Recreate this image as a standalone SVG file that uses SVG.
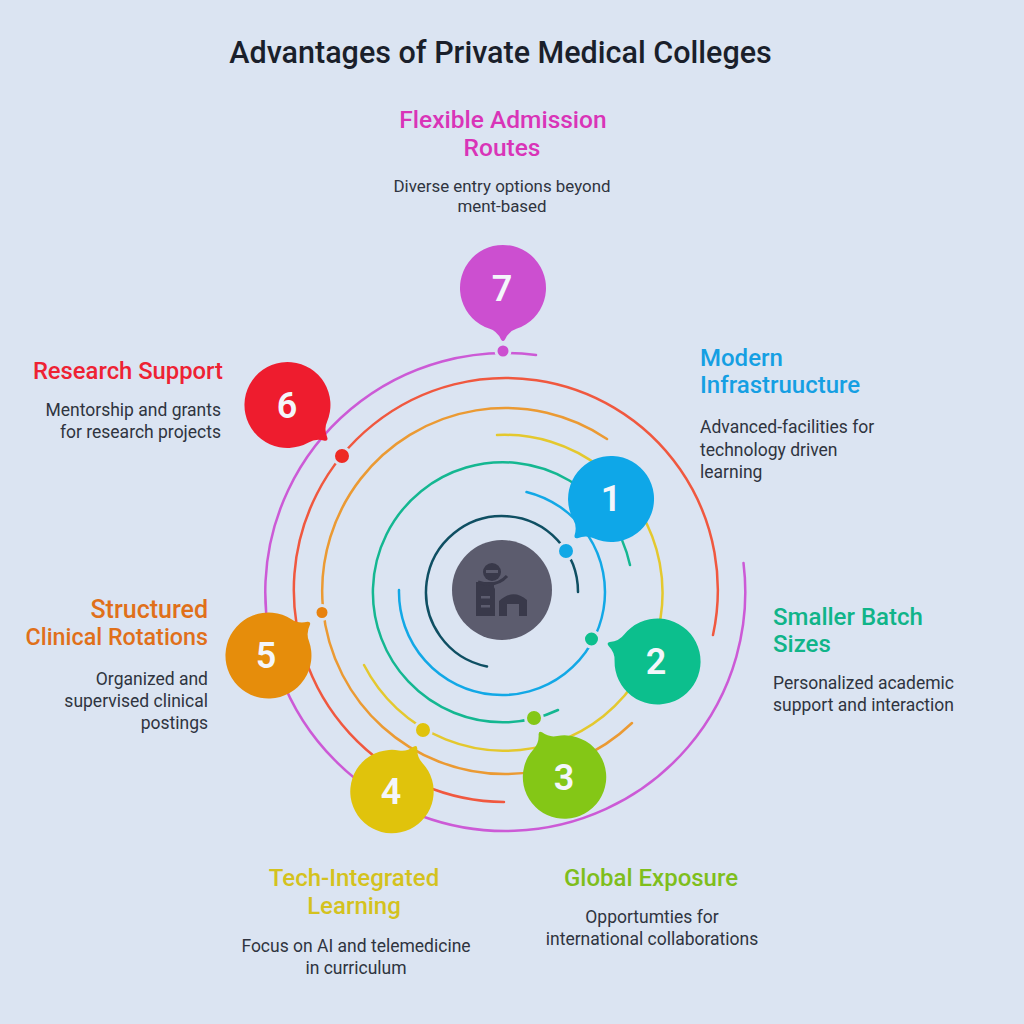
<svg xmlns="http://www.w3.org/2000/svg" width="1024" height="1024" viewBox="0 0 1024 1024">
<style>
text{font-family:Roboto,"Liberation Sans",sans-serif}
.title{font-size:30.500px;font-weight:500;fill:#1a1f2b;text-anchor:middle}
.h{font-size:24px;font-weight:500}
.d{font-size:17.500px;font-weight:400;fill:#2f3440}
.m{text-anchor:middle}.e{text-anchor:end}
.n{font-size:36px;font-weight:600;fill:#f4f6fb;text-anchor:middle}
.a{fill:none;stroke-width:2.500;stroke-linecap:round}
.dot{stroke:#dbe4f2;stroke-width:3}
</style>
<defs>
<path id="bub" d="M-14-40.600A43 43 0 1 0 14-40.600Q6-43 2-51.500Q0-54.500-2-51.500Q-6-43-14-40.600Z"/>
</defs>
<rect width="1024" height="1024" fill="#dbe4f2"/>
<text class="title" x="500.500" y="63">Advantages of Private Medical Colleges</text>
<g id="connectors">
<path class="a" stroke="#0f4f63" d="M578 592A76 76 0 1 0 487 666.500"/>
<path class="a" stroke="#12a8e6" d="M526.500 492A103 103 0 1 1 399 590"/>
<path class="a" stroke="#14b791" d="M630 565A130 130 0 1 0 558 710"/>
<path class="a" stroke="#e4c82e" d="M497 435A158 158 0 1 1 364 665"/>
<path class="a" stroke="#eb9a33" d="M607 439A183 183 0 1 0 632 723"/>
<path class="a" stroke="#f0583f" d="M713 635A212 212 0 1 0 504 802"/>
<path class="a" stroke="#cc5ad6" d="M536 355A240 239 0 1 0 743.500 563"/>
<circle class="dot" cx="566" cy="551" r="8.500" fill="#12a8e6"/>
<circle class="dot" cx="591.500" cy="639" r="8" fill="#0cbf8d"/>
<circle class="dot" cx="534" cy="718" r="8.500" fill="#84c716"/>
<circle class="dot" cx="423" cy="730" r="8.500" fill="#e0c30c"/>
<circle class="dot" cx="322" cy="612.500" r="7" fill="#e8820f"/>
<circle class="dot" cx="342" cy="456" r="8.500" fill="#ee2a24"/>
<circle class="dot" cx="503" cy="351" r="7" fill="#cc4fd0"/>
</g>
<g id="center">
<circle cx="502" cy="590" r="50" fill="#5c5c6e"/>
<g fill="#39394a">
<path d="M476 582H491L495 589V616H476Z"/>
<path d="M499 616V601Q513 588 527 600V616H519V604H507V616Z"/>
<circle cx="492" cy="572" r="9"/>
<path d="M478 582Q496 588 507 576" fill="none" stroke="#39394a" stroke-width="3"/>
<rect x="490" y="582" width="4" height="10"/>
</g>
<g fill="#5c5c6e">
<rect x="486" y="570" width="12" height="3"/>
<rect x="481" y="596" width="9" height="2.500"/>
<rect x="481" y="605" width="9" height="2.500"/>
<path d="M509 608V606H518V616H515V608Z"/>
</g>
</g>
<g id="node-1">
<use href="#bub" transform="translate(611 499) rotate(222.800)" fill="#0ea7e8"/>
<text class="n" x="611" y="511">1</text>
<text class="h" x="700" y="366" fill="#159fe3">Modern</text>
<text class="h" x="700" y="393" fill="#159fe3">Infrastruucture</text>
<text class="d" x="700" y="433">Advanced-facilities for</text>
<text class="d" x="700" y="456">technology driven</text>
<text class="d" x="700" y="478">learning</text>
</g>
<g id="node-2">
<use href="#bub" transform="translate(657.500 661.500) rotate(-69.900)" fill="#0cbf8d"/>
<text class="n" x="656" y="674">2</text>
<text class="h" x="773" y="625" fill="#10b489">Smaller Batch</text>
<text class="h" x="773" y="652" fill="#10b489">Sizes</text>
<text class="d" x="773" y="689">Personalized academic</text>
<text class="d" x="773" y="711">support and interaction</text>
</g>
<g id="node-3">
<use href="#bub" transform="translate(564.500 777) rotate(-29) scale(.97)" fill="#84c716"/>
<text class="n" x="564" y="790">3</text>
<text class="h m" x="651" y="886" fill="#7fbe1c">Global Exposure</text>
<text class="d m" x="652" y="923">Opportumties for</text>
<text class="d m" x="652" y="945">international collaborations</text>
</g>
<g id="node-4">
<use href="#bub" transform="translate(392 791.500) rotate(28.200) scale(.97)" fill="#e0c30c"/>
<text class="n" x="391" y="804">4</text>
<text class="h m" x="354" y="886" fill="#d4c21e">Tech-Integrated</text>
<text class="h m" x="354" y="914" fill="#d4c21e">Learning</text>
<text class="d m" x="356" y="952">Focus on AI and telemedicine</text>
<text class="d m" x="356" y="974">in curriculum</text>
</g>
<g id="node-5">
<use href="#bub" transform="translate(268.500 655.500) rotate(51.300)" fill="#e68d0b"/>
<text class="n" x="266" y="668">5</text>
<text class="h e" x="208" y="618" fill="#e0701a" style="font-size:25px">Structured</text>
<text class="h e" x="208" y="645" fill="#e0701a" style="font-size:23.300px">Clinical Rotations</text>
<text class="d e" x="208" y="685">Organized and</text>
<text class="d e" x="208" y="707">supervised clinical</text>
<text class="d e" x="208" y="729">postings</text>
</g>
<g id="node-6">
<use href="#bub" transform="translate(287.500 405) rotate(131.600)" fill="#ee1c2e"/>
<text class="n" x="287" y="418">6</text>
<text class="h e" x="223" y="379" fill="#ee2233" style="font-size:23.800px">Research Support</text>
<text class="d e" x="221" y="416">Mentorship and grants</text>
<text class="d e" x="221" y="438">for research projects</text>
</g>
<g id="node-7">
<use href="#bub" transform="translate(503 288) rotate(180)" fill="#cc4fd0"/>
<text class="n" x="502" y="301">7</text>
<text class="h m" x="503" y="128" fill="#d934b8" style="font-size:24.500px">Flexible Admission</text>
<text class="h m" x="502" y="156" fill="#d934b8" style="font-size:24.500px">Routes</text>
<text class="d m" x="502" y="192" style="font-size:16.900px">Diverse entry options beyond</text>
<text class="d m" x="502" y="212" style="font-size:16.900px">ment-based</text>
</g>
</svg>
